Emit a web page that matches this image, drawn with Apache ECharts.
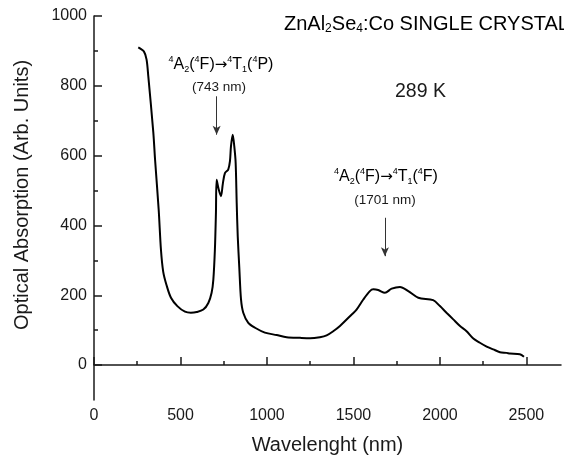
<!DOCTYPE html>
<html>
<head>
<meta charset="utf-8">
<script src="https://cdn.jsdelivr.net/npm/echarts@6.0.0/dist/echarts.min.js"></script>
<style>
  html, body { margin: 0; padding: 0; background: #fff; }
  #chart { width: 564px; height: 460px; }
</style>
</head>
<body>
<div id="chart"></div>
<script>
// --- DATA ---
const wavelength = [256, 289, 304, 314, 343, 353, 374, 387, 400, 420, 445, 482, 526, 560, 594, 632, 661, 680, 690, 699, 705,
  709, 720, 734, 745, 757, 776, 786, 792, 802, 811, 819, 825, 831, 840, 850, 863, 892, 931, 988, 1056, 1114, 1191, 1249,
  1306, 1345, 1383, 1422, 1490, 1518, 1557, 1595, 1615, 1643, 1682, 1721, 1769, 1817, 1875, 1961, 2000, 2038,
  2077, 2116, 2154, 2193, 2231, 2270, 2308, 2347, 2385, 2405, 2462, 2486];
const absorption = [910, 898, 875, 827, 666, 589, 445, 331, 268, 228, 193, 169, 153, 150, 152, 159, 178, 207, 245, 331, 436,
  531, 505, 484, 520, 550, 560, 584, 627, 660, 627, 579, 465, 369, 280, 188, 150, 121, 107, 93, 86, 80, 78, 77,
  80, 85, 97, 112, 145, 159, 188, 212, 217, 215, 207, 219, 224, 212, 193, 186, 169, 150,
  131, 112, 97, 76, 64, 53, 45, 37, 35, 33, 31, 24];

const xMajorTicks = [0, 500, 1000, 1500, 2000, 2500];
const xMinorTicks = [250, 750, 1250, 1750, 2250];
const yMajorTicks = [0, 200, 400, 600, 800, 1000];
const yMinorTicks = [100, 300, 500, 700, 900];

// arrows: [x, yFrom, yTo]
const arrow743 = [709, 770, 660];
const arrow1701 = [1682, 422, 312];

const FONT = 'Liberation Sans';
const INK = '#1a1a1a';

const chart = echarts.init(document.getElementById('chart'));

const axisBase = {
  splitLine: { show: false },
  axisLine: { show: true, lineStyle: { color: INK, width: 1.5 } }
};

// term symbol like 4A2(4F)→4T1(4P), rich text
const termRich = {
  n: { fontFamily: FONT, fontSize: 16, color: INK },
  ar: { fontFamily: 'DejaVu Sans', fontSize: 15, color: INK },
  s: { fontFamily: FONT, fontSize: 9, color: INK, padding: [0, 0, 10, 0] },
  sub: { fontFamily: FONT, fontSize: 9, color: INK, padding: [10, 0, 0, 0] }
};
const term = (last) => '{s|4}{n|A}{sub|2}{n|(}{s|4}{n|F)}{ar|→}{s|4}{n|T}{sub|1}{n|(}{s|4}{n|' + last + ')}';

const option = {
  animation: false,
  backgroundColor: '#fff',
  grid: { left: 94, right: 3, top: 16, bottom: 59 },
  xAxis: [{
    ...axisBase,
    type: 'value', min: 0, max: 2700, interval: 500, position: 'bottom',
    name: 'Wavelenght (nm)', nameLocation: 'middle', nameGap: 35,
    nameTextStyle: { fontFamily: FONT, fontSize: 20, color: INK },
    axisTick: { show: true, inside: true, length: 8, customValues: xMajorTicks, lineStyle: { color: INK, width: 1.5 } },
    axisLabel: { show: true, customValues: xMajorTicks, formatter: v => String(v), margin: 8, fontFamily: FONT, fontSize: 16, color: INK }
  }, {
    type: 'value', min: 0, max: 2700, position: 'bottom', offset: 0,
    splitLine: { show: false }, axisLine: { show: false }, axisLabel: { show: false },
    axisTick: { show: true, inside: true, length: 4, customValues: xMinorTicks, lineStyle: { color: INK, width: 1.5 } }
  }],
  yAxis: [{
    ...axisBase,
    type: 'value', min: -100, max: 1000, interval: 100, position: 'left',
    name: 'Optical Absorption (Arb. Units)', nameLocation: 'middle', nameGap: 62,
    nameTextStyle: { fontFamily: FONT, fontSize: 20, color: INK, padding: [0, 0, 0, 26] },
    axisTick: { show: true, inside: true, length: 8, customValues: yMajorTicks, lineStyle: { color: INK, width: 1.5 } },
    axisLabel: { show: true, customValues: yMajorTicks, formatter: v => String(v), margin: 7, fontFamily: FONT, fontSize: 16, color: INK }
  }, {
    type: 'value', min: -100, max: 1000, position: 'left', offset: 0,
    splitLine: { show: false }, axisLine: { show: false }, axisLabel: { show: false },
    axisTick: { show: true, inside: true, length: 4, customValues: yMinorTicks, lineStyle: { color: INK, width: 1.5 } }
  }],
  series: [{
    type: 'line',
    data: wavelength.map((w, i) => [w, absorption[i]]),
    showSymbol: false,
    smooth: 0.3,
    lineStyle: { color: '#000', width: 2 },
    markLine: {
      silent: true,
      symbol: ['none', 'arrow'],
      symbolSize: [6, 9],
      label: { show: false },
      lineStyle: { color: '#333', width: 1, type: 'solid' },
      data: [
        [{ coord: [arrow743[0], arrow743[1]] }, { coord: [arrow743[0], arrow743[2]] }],
        [{ coord: [arrow1701[0], arrow1701[1]] }, { coord: [arrow1701[0], arrow1701[2]] }]
      ]
    }
  }],
  graphic: [
    {
      type: 'text', left: 284, top: 14,
      style: {
        text: '{n|ZnAl}{sub|2}{n|Se}{sub|4}{n|:Co SINGLE CRYSTAL}',
        rich: {
          n: { fontFamily: FONT, fontSize: 20, color: INK },
          sub: { fontFamily: FONT, fontSize: 12, color: INK, padding: [10, 0, 0, 0] }
        }
      }
    },
    {
      type: 'text', left: 395, top: 82,
      style: { text: '289 K', fontFamily: FONT, fontSize: 19.5, fill: INK }
    },
    {
      type: 'text', x: 221, y: 65,
      style: { text: term('P'), align: 'center', verticalAlign: 'middle', rich: termRich }
    },
    {
      type: 'text', x: 219, y: 87,
      style: { text: '(743 nm)', fontFamily: FONT, fontSize: 13.5, fill: INK, align: 'center', verticalAlign: 'middle' }
    },
    {
      type: 'text', x: 386, y: 177,
      style: { text: term('F'), align: 'center', verticalAlign: 'middle', rich: termRich }
    },
    {
      type: 'text', x: 385, y: 200,
      style: { text: '(1701 nm)', fontFamily: FONT, fontSize: 13.5, fill: INK, align: 'center', verticalAlign: 'middle' }
    }
  ]
};

chart.setOption(option);
</script>
</body>
</html>
